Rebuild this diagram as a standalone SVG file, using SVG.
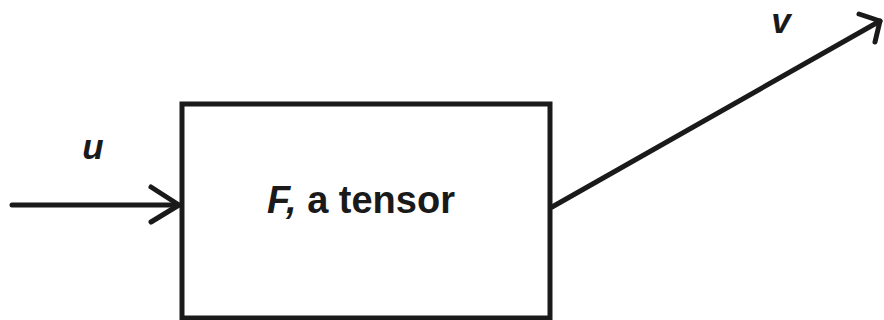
<svg xmlns="http://www.w3.org/2000/svg" width="884" height="320" viewBox="0 0 884 320">
<style>
.ln{fill:none;stroke:#1a1a1a;stroke-width:5;stroke-linecap:round;stroke-linejoin:round}
.lbl{font-family:"Liberation Sans",Arial,sans-serif;font-weight:bold;fill:#1a1a1a}
</style>
<rect width="884" height="320" fill="#ffffff"/>
<g id="node-F">
<rect x="182" y="104" width="368" height="214" fill="#ffffff" stroke="#1a1a1a" stroke-width="5"/>
<text class="lbl" x="361" y="213" font-size="38" text-anchor="middle"><tspan font-style="italic">F,</tspan> a tensor</text>
</g>
<g id="connectors">
<path class="ln" d="M12,205 H179"/>
<path class="ln" d="M151,187 L179,205 L151,222"/>
<path class="ln" d="M552,207 L880,21"/>
<path class="ln" d="M859,14 L880,21 L875,42"/>
</g>
<g id="labels">
<text class="lbl" x="93" y="159" font-size="35" font-style="italic" text-anchor="middle">u</text>
<text class="lbl" x="781" y="33" font-size="35" font-style="italic" text-anchor="middle">v</text>
</g>
</svg>
